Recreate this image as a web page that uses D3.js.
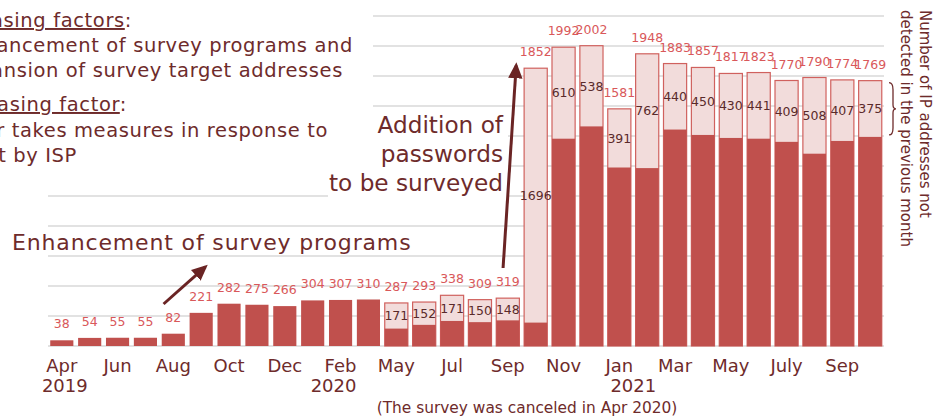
<!DOCTYPE html>
<html>
<head>
<meta charset="utf-8">
<script src="https://cdn.jsdelivr.net/npm/d3@7"></script>
<style>
    body { margin: 0; background: #fff; }
    svg { display: block; font-family: "DejaVu Sans", sans-serif; }
</style>
</head>
<body>
<svg id="chart"></svg>
<script>
const months = [
    "Apr 2019", "May 2019", "Jun 2019", "Jul 2019", "Aug 2019", "Sep 2019",
    "Oct 2019", "Nov 2019", "Dec 2019", "Jan 2020", "Feb 2020", "Mar 2020",
    "May 2020", "Jun 2020", "Jul 2020", "Aug 2020", "Sep 2020", "Oct 2020",
    "Nov 2020", "Dec 2020", "Jan 2021", "Feb 2021", "Mar 2021", "Apr 2021",
    "May 2021", "Jun 2021", "Jul 2021", "Aug 2021", "Sep 2021", "Oct 2021"
];
const totals = [
    38, 54, 55, 55, 82, 221, 282, 275, 266, 304, 307, 310,
    287, 293, 338, 309, 319, 1852,
    1992, 2002, 1581, 1948, 1883, 1857, 1817, 1823, 1770, 1790, 1774, 1769
];
// not detected in the previous month (counted from May 2020 on)
const newAddrs = [
    null, null, null, null, null, null, null, null, null, null, null, null,
    171, 152, 171, 150, 148, 1696,
    610, 538, 391, 762, 440, 450, 430, 441, 409, 508, 407, 375
];
const tickMonths = [
    "Apr 2019", "Jun 2019", "Aug 2019", "Oct 2019", "Dec 2019", "Feb 2020",
    "May 2020", "Jul 2020", "Sep 2020", "Nov 2020", "Jan 2021", "Mar 2021",
    "May 2021", "Jul 2021", "Sep 2021"
];
const tickLabels = ["Apr", "Jun", "Aug", "Oct", "Dec", "Feb", "May", "Jul", "Sep", "Nov", "Jan", "Mar", "May", "July", "Sep"];
const yearMonths = ["Apr 2019", "Feb 2020", "Jan 2021"];
const yearLabels = ["2019", "2020", "2021"];
const gridValues = [0, 200, 400, 600, 800, 1000, 1200, 1400, 1600, 1800, 2000, 2200];

const TEXT = "#6e2b2b";

class StackedBars {
    constructor(svg, width = 934, height = 417) {
        this.svg = d3.select(svg).attr("width", width).attr("height", height);
        this.width = width;
        this.height = height;
    }

    initialize() {
        const defs = this.svg.append("defs");
        defs.append("marker")
            .attr("id", "head")
            .attr("viewBox", "0 0 10 10")
            .attr("refX", 8).attr("refY", 5)
            .attr("markerUnits", "userSpaceOnUse")
            .attr("markerWidth", 16).attr("markerHeight", 16)
            .attr("orient", "auto")
            .append("path")
            .attr("d", "M0,0.5 L10,5 L0,9.5 Z")
            .attr("fill", "#6a2424");

        this.grid = this.svg.append("g");
        this.boxes = this.svg.append("g");
        this.bars = this.svg.append("g");
        this.labels = this.svg.append("g");
        this.notes = this.svg.append("g");
        this.xAxis = this.svg.append("g");

        this.xScale = d3.scaleBand().domain(months).range([48, 884]).paddingInner(0.17).paddingOuter(0.08);
        this.yScale = d3.scaleLinear().domain([0, 2200]).range([346, 16]);
    }

    // x at a (fractional) bar index, for annotations
    xAt(i) {
        return this.xScale(months[0]) + this.xScale.bandwidth() / 2 + i * this.xScale.step();
    }

    update() {
        const x = this.xScale, y = this.yScale;
        const data = months.map((m, i) => ({ m, total: totals[i], fresh: newAddrs[i] }));

        this.grid.selectAll("line")
            .data(gridValues)
            .join("line")
            .attr("x1", 48).attr("x2", 884)
            .attr("y1", (d) => y(d)).attr("y2", (d) => y(d))
            .attr("stroke", "#d9d9d9")
            .attr("stroke-width", 1.6);

        // white boxes behind the text annotations
        this.boxes.append("rect").attr("x", 0).attr("y", 0).attr("width", 373).attr("height", 174).attr("fill", "#fff");
        this.boxes.append("rect").attr("x", 328).attr("y", 110).attr("width", 180).attr("height", 90).attr("fill", "#fff");

        const light = data.filter((d) => d.fresh != null);
        this.bars.selectAll("rect.light")
            .data(light)
            .join("rect")
            .attr("class", "light")
            .attr("x", (d) => x(d.m))
            .attr("y", (d) => y(d.total))
            .attr("width", x.bandwidth())
            .attr("height", (d) => y(0) - y(d.total))
            .attr("fill", "#f2dcdb")
            .attr("stroke", "#d0615e")
            .attr("stroke-width", 1.2);

        this.bars.selectAll("rect.dark")
            .data(data)
            .join("rect")
            .attr("class", "dark")
            .attr("x", (d) => x(d.m))
            .attr("y", (d) => y(d.total - (d.fresh || 0)))
            .attr("width", x.bandwidth())
            .attr("height", (d) => y(0) - y(d.total - (d.fresh || 0)))
            .attr("fill", "#c0504d");

        this.labels.selectAll("text.total")
            .data(data)
            .join("text")
            .attr("class", "total")
            .attr("x", (d) => x(d.m) + x.bandwidth() / 2)
            .attr("y", (d) => y(d.total) - 12)
            .attr("text-anchor", "middle")
            .attr("font-size", 12.5)
            .attr("fill", "#d9585a")
            .text((d) => d.total);

        this.labels.selectAll("text.fresh")
            .data(light)
            .join("text")
            .attr("class", "fresh")
            .attr("x", (d) => x(d.m) + x.bandwidth() / 2)
            .attr("y", (d) => (y(d.total) + y(d.total - d.fresh)) / 2)
            .attr("dominant-baseline", "central")
            .attr("text-anchor", "middle")
            .attr("font-size", 12.5)
            .attr("fill", "#5a2a2a")
            .text((d) => d.fresh);

        // month ticks
        this.xAxis
            .attr("transform", `translate(0, ${y(0)})`)
            .call(d3.axisBottom(x).tickValues(tickMonths).tickSize(0).tickPadding(13)
                .tickFormat((d) => tickLabels[tickMonths.indexOf(d)]))
            .call((g) => g.select(".domain").remove())
            .call((g) => g.selectAll("text")
                .attr("font-family", "DejaVu Sans")
                .attr("font-size", 18)
                .attr("fill", TEXT));

        const yearNudge = [3, -7, 14];
        this.notes.selectAll("text.year")
            .data(yearLabels)
            .join("text")
            .attr("class", "year")
            .attr("x", (d, i) => x(yearMonths[i]) + x.bandwidth() / 2 + yearNudge[i])
            .attr("y", 392)
            .attr("text-anchor", "middle")
            .attr("font-size", 18)
            .attr("fill", TEXT)
            .text((d) => d);

        this.notes.append("text")
            .attr("x", 527).attr("y", 413)
            .attr("text-anchor", "middle")
            .attr("font-size", 15.4)
            .attr("fill", TEXT)
            .text("(The survey was canceled in Apr 2020)");

        // left factor block (its start runs off the page)
        const factors = [
            { y: 27, end: 132, parts: [["Increasing factors", true], [":", false]] },
            { y: 52, end: 353, parts: [["\u30FBEnhancement of survey programs and", false]] },
            { y: 77, end: 343, parts: [["expansion of survey target addresses", false]] },
            { y: 111, end: 127, parts: [["Decreasing factor", true], [":", false]] },
            { y: 137, end: 328, parts: [["\u30FBUser takes measures in response to", false]] },
            { y: 162, end: 77, parts: [["alert by ISP", false]] }
        ];
        factors.forEach((f) => {
            const t = this.notes.append("text")
                .attr("x", f.end).attr("y", f.y)
                .attr("text-anchor", "end")
                .attr("font-size", 19.5)
                .attr("letter-spacing", 0.62)
                .attr("fill", TEXT);
            f.parts.forEach(([s, u]) => {
                t.append("tspan").attr("text-decoration", u ? "underline" : null).text(s);
            });
        });

        const add = this.notes.append("text")
            .attr("text-anchor", "end")
            .attr("font-size", 23.2)
            .attr("fill", TEXT);
        ["Addition of", "passwords", "to be surveyed"].forEach((s, i) => {
            add.append("tspan").attr("x", 503).attr("y", 133 + i * 29).text(s);
        });

        this.notes.append("text")
            .attr("x", 12).attr("y", 250)
            .attr("font-size", 22)
            .attr("letter-spacing", 0.85)
            .attr("fill", TEXT)
            .text("Enhancement of survey programs");

        // arrows
        const arrows = [
            { from: [3.65, 280], to: [5.15, 528] },
            { from: [15.83, 520], to: [16.3, 1870] }
        ];
        this.notes.selectAll("line.arrow")
            .data(arrows)
            .join("line")
            .attr("class", "arrow")
            .attr("x1", (d) => this.xAt(d.from[0])).attr("y1", (d) => y(d.from[1]))
            .attr("x2", (d) => this.xAt(d.to[0])).attr("y2", (d) => y(d.to[1]))
            .attr("stroke", "#6a2424")
            .attr("stroke-width", 3)
            .attr("marker-end", "url(#head)");

        // brace for the last bar's new-address segment
        const last = data[data.length - 1];
        const bx = x.range()[1] + 5;
        const b0 = y(last.total) + 2, b1 = y(last.total - last.fresh) - 2, bm = (b0 + b1) / 2;
        this.notes.append("path")
            .attr("d", `M${bx},${b0} Q${bx + 4},${b0} ${bx + 4},${b0 + 7} L${bx + 4},${bm - 4} Q${bx + 4},${bm} ${bx + 7},${bm}`
                + ` Q${bx + 4},${bm} ${bx + 4},${bm + 4} L${bx + 4},${b1 - 7} Q${bx + 4},${b1} ${bx},${b1}`)
            .attr("fill", "none")
            .attr("stroke", TEXT)
            .attr("stroke-width", 1.3);

        const side = this.notes.append("text")
            .attr("transform", "translate(920, 10) rotate(90)")
            .attr("font-size", 15)
            .attr("fill", TEXT);
        side.append("tspan").attr("x", 0).attr("y", 0).text("Number of IP addresses not");
        side.append("tspan").attr("x", 0).attr("y", 19).text("detected in the previous month");
    }
}

const chart = new StackedBars(document.getElementById("chart"));
chart.initialize();
chart.update();
</script>
</body>
</html>
